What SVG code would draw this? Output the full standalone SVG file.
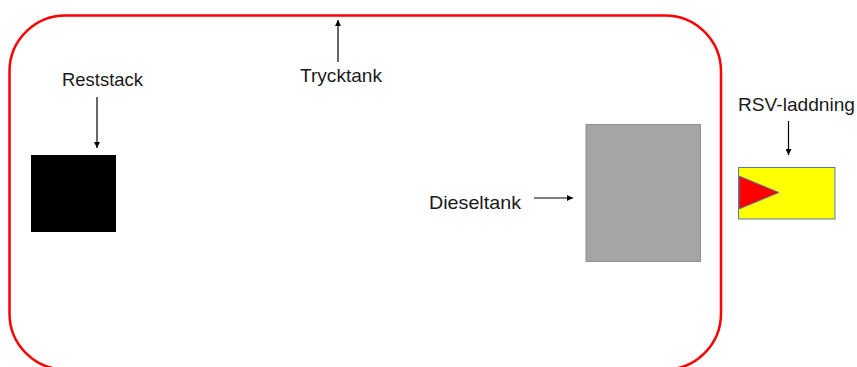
<svg xmlns="http://www.w3.org/2000/svg" width="857" height="367" viewBox="0 0 857 367">
  <style>
    .lbl { font-family: "Liberation Sans", Arial, sans-serif; font-size: 18.5px; fill: #1a1a1a; }
    .arrow { stroke: #000; stroke-width: 1.2; fill: none; marker-end: url(#head); }
  </style>
  <defs>
    <marker id="head" viewBox="0 0 10 10" refX="10" refY="5" markerWidth="6" markerHeight="6" markerUnits="userSpaceOnUse" orient="auto">
      <path d="M0,0 L10,5 L0,10 z" fill="#000"/>
    </marker>
  </defs>
  <rect width="857" height="367" fill="#fff"/>

  <!-- pressure tank outline -->
  <g id="trycktank">
    <rect x="9.5" y="15.5" width="711.5" height="354" rx="56" ry="56" fill="none" stroke="#ff0000" stroke-width="2.5"/>
    <text class="lbl" x="300" y="82" textLength="82" lengthAdjust="spacingAndGlyphs">Trycktank</text>
  </g>

  <g id="reststack">
    <rect x="31" y="155" width="85" height="77" fill="#000"/>
    <text class="lbl" x="62" y="86" textLength="81" lengthAdjust="spacingAndGlyphs">Reststack</text>
  </g>

  <g id="dieseltank">
    <rect x="586" y="124.5" width="114.5" height="137" fill="#a5a5a5" stroke="#8f8f8f" stroke-width="1"/>
    <text class="lbl" x="429" y="209" textLength="92" lengthAdjust="spacingAndGlyphs">Dieseltank</text>
  </g>

  <g id="rsv-laddning">
    <rect x="738.5" y="167.5" width="96.5" height="51.5" fill="#ffff00" stroke="#5a7aa8" stroke-width="1"/>
    <polygon points="739,176 779,192.5 739,209" fill="#ff0000" stroke="#5a7aa8" stroke-width="1"/>
    <text class="lbl" x="738" y="111" textLength="117" lengthAdjust="spacingAndGlyphs">RSV-laddning</text>
  </g>

  <g id="connectors">
    <line class="arrow" x1="97" y1="97" x2="97" y2="148"/>
    <line class="arrow" x1="338" y1="62" x2="338" y2="20"/>
    <line class="arrow" x1="534" y1="198" x2="573" y2="198"/>
    <line class="arrow" x1="788.5" y1="121" x2="788.5" y2="155"/>
  </g>
</svg>
